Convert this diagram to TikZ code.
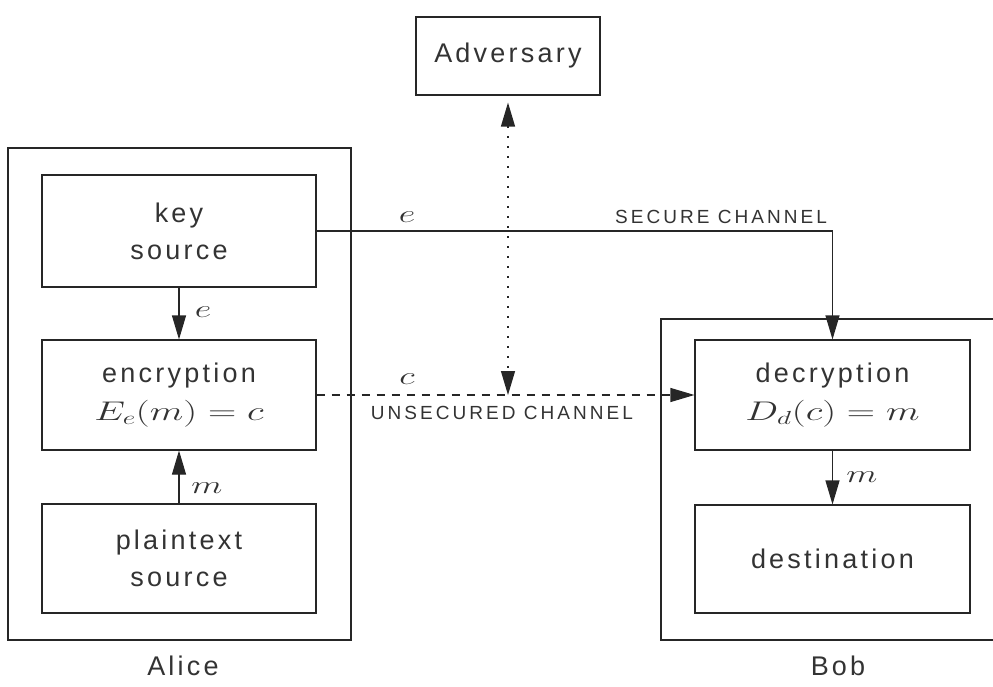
\documentclass[tikz,border=0pt]{standalone}
\usepackage{fix-cm}
\usepackage{fontspec}
\setmainfont{Liberation Sans}[LetterSpace=12]
\newfontfamily\capsfont{Liberation Sans}[LetterSpace=16]
\usetikzlibrary{arrows.meta}
% wide, light math as used in the boxes and on the connectors
\newcommand{\widemath}[1]{\scalebox{1.45}[1]{$#1$}}
\begin{document}
\begin{tikzpicture}[x=1pt,y=-1pt,
  line width=1.1pt, draw=black!85,
  box/.style={draw, rectangle, inner sep=0pt, align=center, text=black!80,
    font=\fontsize{27}{38}\selectfont},
  tip/.tip={Triangle[length=24pt,width=14pt]},
  arr/.style={-tip},
  biarr/.style={tip-tip},
  lbl/.style={text=black!80, font=\fontsize{25}{28}\selectfont},
  chan/.style={text=black!80, font=\capsfont\fontsize{19}{22}\selectfont},
  who/.style={text=black!80, font=\fontsize{27}{30}\selectfont}]
\useasboundingbox (0,0) rectangle (993,687);

% party frames
\node[box, minimum width=343pt, minimum height=492pt] (alice) at (179.5,394) {};
\node[box, minimum width=344pt, minimum height=321pt] (bob) at (833,479.5) {};

% Alice's side
\node[box, minimum width=274pt, minimum height=112pt] (key) at (179,231) {key\\[-1pt]source};
\node[box, minimum width=274pt, minimum height=110pt] (enc) at (179,395) {encryption\\\widemath{E_e(m)=c}};
\node[box, minimum width=274pt, minimum height=109pt] (plain) at (179,558.5) {plaintext\\[-1pt]source};

% Bob's side
\node[box, minimum width=275pt, minimum height=110pt] (dec) at (832.5,395) {decryption\\\widemath{D_d(c)=m}};
\node[box, minimum width=275pt, minimum height=108pt] (dest) at (832.5,559) {destination};

% the eavesdropper
\node[box, minimum width=184pt, minimum height=78pt] (adv) at (508,56) {Adversary};

% connectors
\draw[arr] (key.south) -- (enc.north);
\draw[arr] (plain.north) -- (enc.south);
\draw[arr] (dec.south) -- (dest.north);
\draw[arr] (key.east) -| (dec.north);
\draw[arr, dash pattern=on 8pt off 7pt] (enc.east) -- (dec.west);
\coordinate (tap) at (508,395);
\draw[biarr, line width=1.3pt, dash pattern=on 1.8pt off 8.2pt] ([yshift=-7pt]adv.south) -- (tap);

% labels
\node[lbl] (le1) at (407,217) {\widemath{e}};
\node[chan] (sc) at (721,217) {SECURE CHANNEL};
\node[lbl] (le2) at (203,312) {\widemath{e}};
\node[lbl] (lm1) at (207,488) {\widemath{m}};
\node[lbl] (lc) at (407,379) {\widemath{c}};
\node[chan] (uc) at (502,413) {UNSECURED CHANNEL};
\node[lbl] (lm2) at (862,477) {\widemath{m}};
\node[who] (na) at (183,666) {Alice};
\node[who] (nb) at (838,666) {Bob};
\end{tikzpicture}
\end{document}
